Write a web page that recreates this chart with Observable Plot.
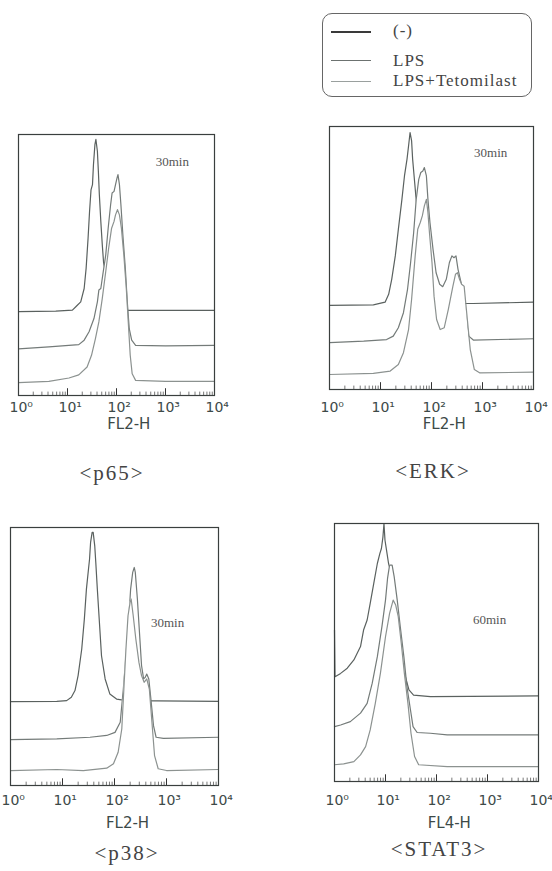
<!DOCTYPE html>
<html><head><meta charset="utf-8">
<script src="https://cdn.jsdelivr.net/npm/d3@7"></script>
<script src="https://cdn.jsdelivr.net/npm/@observablehq/plot@0.6"></script>
<style>
body{margin:0;background:#fff;}
#fig{position:relative;width:552px;height:871px;overflow:hidden;background:#fff;}
.panel{position:absolute;}
.cap{position:absolute;transform:translate(-50%,-50%);font-family:"Liberation Serif","Times New Roman",serif;font-size:21px;letter-spacing:2px;color:#444;white-space:nowrap;}
#legend{position:absolute;left:322px;top:13px;width:208px;height:82px;border:1.3px solid #666;border-radius:10px;}
.lgline{position:absolute;left:8px;width:40px;}
.lgtext{position:absolute;left:70px;transform:translateY(-50%);font-family:"Liberation Serif","Times New Roman",serif;font-size:17px;letter-spacing:1px;color:#444;white-space:nowrap;}
</style></head>
<body><div id="fig"></div>
<script>
// x = log10(fluorescence) decade, y = % of frame height (waterfall offsets as drawn)
const decades = [0, 1, 2, 3, 4];
const tickLabels = ["10\u2070", "10\u00b9", "10\u00b2", "10\u00b3", "10\u2074"];
const legendLabels = ["(-)", "LPS", "LPS+Tetomilast"];

const p65Neg = [[0,32.1],[0.76,32.3],[1.10,32.7],[1.17,34.0],[1.27,35.9],[1.34,41.0],[1.38,48.7],[1.42,60.3],[1.45,70.5],[1.48,78.8],[1.51,80.8],[1.53,88.5],[1.56,96.2],[1.58,98.1],[1.61,93.6],[1.63,85.9],[1.65,76.9],[1.68,66.7],[1.71,57.7],[1.74,50.0],[1.78,47.4],[1.83,42.3],[1.90,37.2],[1.97,34.0],[2.05,32.7],[2.25,32.6],[4.0,32.6]];
const p65Lps = [[0,17.9],[0.62,18.6],[1.23,19.5],[1.34,21.2],[1.44,24.4],[1.54,29.5],[1.61,35.9],[1.64,40.4],[1.68,41.0],[1.72,46.2],[1.78,53.8],[1.83,64.1],[1.88,73.1],[1.91,77.6],[1.95,78.2],[1.98,80.8],[2.01,83.3],[2.03,84.6],[2.06,80.8],[2.09,73.1],[2.13,61.5],[2.18,48.7],[2.22,35.9],[2.26,25.6],[2.31,21.2],[2.39,19.2],[3.0,19.0],[4.0,19.2]];
const p65Tet = [[0,4.9],[0.62,5.4],[1.03,6.7],[1.23,7.9],[1.40,10.9],[1.49,15.4],[1.57,21.8],[1.64,28.2],[1.71,37.2],[1.78,47.4],[1.84,56.4],[1.90,64.1],[1.95,66.7],[1.98,69.2],[2.02,71.2],[2.06,69.2],[2.10,64.1],[2.15,53.8],[2.20,41.0],[2.24,28.2],[2.28,15.4],[2.32,8.3],[2.39,5.8],[3.0,5.4],[4.0,5.4]];

const erkNeg = [[0,32.0],[0.86,32.2],[1.09,33.2],[1.16,36.2],[1.22,41.9],[1.29,50.8],[1.35,60.9],[1.42,72.3],[1.47,81.2],[1.52,87.6],[1.55,92.6],[1.58,97.7],[1.61,94.5],[1.63,87.6],[1.67,78.7],[1.71,69.8],[1.76,59.6],[1.83,48.2],[1.91,39.3],[2.01,34.3],[2.14,32.7],[2.82,32.7],[4.0,33.2]];
const erkLps = [[0,17.8],[0.67,18.4],[1.12,19.0],[1.25,20.3],[1.35,23.5],[1.45,29.2],[1.53,38.1],[1.59,48.2],[1.65,59.6],[1.70,72.3],[1.75,79.9],[1.79,82.5],[1.83,83.1],[1.86,84.4],[1.90,81.2],[1.93,72.3],[1.97,63.5],[2.03,53.3],[2.09,44.4],[2.16,40.0],[2.22,39.1],[2.29,41.9],[2.35,48.2],[2.40,50.8],[2.44,50.1],[2.48,50.8],[2.52,45.7],[2.58,40.6],[2.63,34.3],[2.68,26.6],[2.73,20.3],[2.82,18.8],[4.0,19.3]];
const erkTet = [[0,5.7],[0.86,6.1],[1.19,7.0],[1.35,9.5],[1.45,14.0],[1.55,22.8],[1.61,34.3],[1.68,50.8],[1.73,60.9],[1.78,63.5],[1.82,66.0],[1.86,69.8],[1.90,72.3],[1.93,67.3],[1.96,59.6],[2.01,48.2],[2.05,35.5],[2.10,26.6],[2.17,22.8],[2.25,23.5],[2.33,30.5],[2.42,39.3],[2.47,43.8],[2.51,44.4],[2.55,41.9],[2.59,40.0],[2.64,39.3],[2.69,29.2],[2.76,15.2],[2.84,7.6],[2.95,6.3],[4.0,6.6]];

const p38Neg = [[0,32.5],[0.89,32.6],[1.08,32.9],[1.17,34.2],[1.24,36.8],[1.30,42.6],[1.37,52.9],[1.42,64.5],[1.46,76.1],[1.50,83.9],[1.52,87.7],[1.54,94.2],[1.57,98.1],[1.59,98.1],[1.62,92.9],[1.64,86.5],[1.67,76.1],[1.71,63.2],[1.75,50.3],[1.82,41.3],[1.91,35.5],[2.04,33.5],[2.23,32.9],[4.0,32.6]];
const p38Lps = [[0,17.8],[0.89,18.1],[1.53,18.7],[1.85,19.4],[2.01,20.6],[2.11,24.5],[2.17,37.4],[2.22,50.3],[2.27,63.2],[2.31,76.1],[2.35,82.6],[2.38,84.5],[2.40,82.6],[2.44,72.3],[2.48,59.4],[2.52,46.5],[2.56,41.3],[2.59,41.9],[2.62,43.2],[2.66,41.3],[2.70,33.5],[2.75,23.2],[2.80,18.7],[2.94,18.3],[4.0,18.7]];
const p38Tet = [[0,5.8],[0.89,6.2],[1.40,5.8],[1.85,6.7],[1.98,8.4],[2.07,12.9],[2.14,21.9],[2.18,37.4],[2.22,52.9],[2.26,65.8],[2.30,71.0],[2.32,72.3],[2.36,65.8],[2.41,56.8],[2.47,47.7],[2.52,42.6],[2.57,40.0],[2.62,41.3],[2.67,37.4],[2.72,24.5],[2.77,11.6],[2.84,6.5],[3.0,5.8],[4.0,6.2]];

const stat3Neg = [[0,58.7],[0.01,40.6],[0.12,41.9],[0.25,43.9],[0.38,47.1],[0.51,52.3],[0.57,58.7],[0.64,62.6],[0.70,69.0],[0.77,76.8],[0.84,84.5],[0.89,88.4],[0.92,90.3],[0.95,94.8],[0.97,100],[0.99,93.5],[1.02,89.7],[1.06,84.5],[1.13,79.4],[1.19,70.3],[1.26,60.0],[1.32,49.7],[1.39,40.6],[1.46,35.5],[1.55,33.5],[1.88,32.9],[4.0,33.2]];
const stat3Lps = [[0,21.3],[0.12,21.9],[0.31,23.2],[0.51,26.5],[0.64,30.3],[0.74,38.1],[0.84,48.4],[0.93,60.0],[1.0,70.3],[1.04,78.7],[1.08,83.9],[1.13,83.9],[1.17,79.4],[1.23,70.3],[1.29,60.0],[1.36,48.4],[1.42,36.8],[1.49,27.7],[1.54,21.3],[1.62,19.0],[1.88,18.7],[2.21,18.1],[4.0,18.1]];
const stat3Tet = [[0,6.5],[0.18,6.8],[0.38,7.7],[0.51,10.3],[0.61,13.5],[0.70,20.0],[0.80,30.3],[0.90,41.9],[1.0,56.1],[1.08,65.2],[1.15,70.3],[1.20,68.4],[1.25,63.9],[1.31,53.5],[1.37,41.9],[1.44,30.3],[1.50,18.7],[1.57,9.7],[1.65,6.5],[2.21,5.8],[4.0,5.8]];

const seriesColors = ["#5a615f", "#747b79", "#8c9290"];
const legendColors = ["#3a3a3a", "#6c7270", "#9aa09e"];

const panels = [
  {series:[p65Neg,p65Lps,p65Tet], frame:{x0:18,x1:214,y0:134,y1:395}, left:0, axisTitle:"FL2-H", time:"30min", timeX:3.14, timeY:89.7, caption:"<p65>", capX:112, capY:473, tickDy:16, titleY:428},
  {series:[erkNeg,erkLps,erkTet], frame:{x0:329,x1:533,y0:126,y1:389}, left:276, axisTitle:"FL2-H", time:"30min", timeX:3.16, timeY:90, caption:"<ERK>", capX:433, capY:471, tickDy:22, titleY:428},
  {series:[p38Neg,p38Lps,p38Tet], frame:{x0:10,x1:218,y0:527,y1:785}, left:0, axisTitle:"FL2-H", time:"30min", timeX:3.02, timeY:63.2, caption:"<p38>", capX:127, capY:853, tickDy:19, titleY:827},
  {series:[stat3Neg,stat3Lps,stat3Tet], frame:{x0:334,x1:538,y0:523,y1:781}, left:276, axisTitle:"FL4-H", time:"60min", timeX:3.04, timeY:62.8, caption:"<STAT3>", capX:439, capY:849, tickDy:23, titleY:827}
];

const minorTicks = [];
for (let n = 0; n < 4; n++) for (let k = 2; k <= 9; k++) minorTicks.push(n + Math.log10(k));

const fig = document.getElementById("fig");
const tickFont = "'DejaVu Sans', sans-serif";

for (const p of panels) {
  const f = p.frame;
  const top = f.y0 - 14;
  const height = p.titleY + 14 - top;
  const marks = [];
  p.series.forEach((s, i) => {
    if (i > 0) marks.push(Plot.areaY(s, {x: d => d[0], y1: 0, y2: d => d[1], fill: "white"}));
    marks.push(Plot.line(s, {x: d => d[0], y: d => d[1], stroke: seriesColors[i], strokeWidth: 1.2}));
  });
  marks.push(Plot.ruleX(minorTicks, {x: d => d, y1: 0, y2: 1.3, stroke: "#555", strokeWidth: 0.8}));
  marks.push(Plot.ruleX(decades, {x: d => d, y1: 0, y2: 2.6, stroke: "#333", strokeWidth: 1}));
  marks.push(Plot.frame({stroke: "#3a3f3e", strokeWidth: 1.2}));
  marks.push(Plot.text(decades, {x: d => d, text: d => tickLabels[d], frameAnchor: "bottom", textAnchor: "start", dx: -9, dy: p.tickDy, fontSize: 14, fontFamily: tickFont, fill: "#3d4a48"}));
  marks.push(Plot.text([p.axisTitle], {x: () => 2.25, text: d => d, frameAnchor: "bottom", dy: p.titleY - f.y1, fontSize: 15, fontFamily: tickFont, fill: "#3d4a48", letterSpacing: "1.5px"}));
  marks.push(Plot.text([p.time], {x: () => p.timeX, y: () => p.timeY, text: d => d, fontSize: 13, fontFamily: "'Liberation Serif', serif", fill: "#555"}));

  const svg = Plot.plot({
    width: 276, height,
    marginLeft: f.x0 - p.left, marginRight: p.left + 276 - f.x1,
    marginTop: 14, marginBottom: height - 14 - (f.y1 - f.y0),
    x: {domain: [0, 4], axis: null},
    y: {domain: [0, 100], axis: null},
    style: {background: "transparent", overflow: "visible"},
    marks
  });
  const wrap = document.createElement("div");
  wrap.className = "panel";
  wrap.style.left = p.left + "px";
  wrap.style.top = top + "px";
  wrap.appendChild(svg);
  fig.appendChild(wrap);

  const cap = document.createElement("div");
  cap.className = "cap";
  cap.style.left = p.capX + "px";
  cap.style.top = p.capY + "px";
  cap.textContent = p.caption;
  fig.appendChild(cap);
}

// legend
const legend = document.createElement("div");
legend.id = "legend";
const lineTops = [17, 46, 67];
const lineWidths = [2.2, 1.2, 1];
legendLabels.forEach((lab, i) => {
  const ln = document.createElement("div");
  ln.className = "lgline";
  ln.style.top = lineTops[i] + "px";
  ln.style.borderTop = lineWidths[i] + "px solid " + legendColors[i];
  legend.appendChild(ln);
  const tx = document.createElement("div");
  tx.className = "lgtext";
  tx.style.top = [17, 47, 67][i] + "px";
  tx.textContent = lab;
  legend.appendChild(tx);
});
fig.appendChild(legend);
</script>
</body></html>
